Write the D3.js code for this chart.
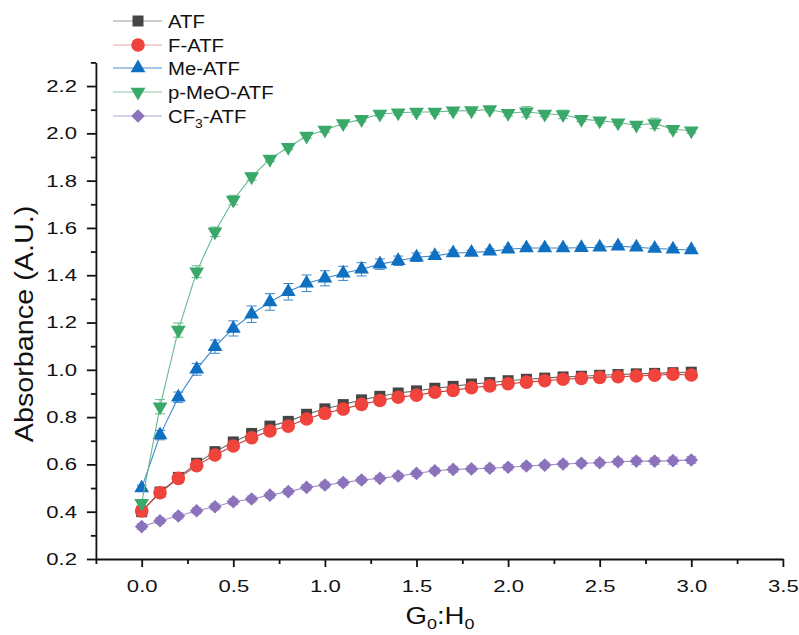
<!DOCTYPE html>
<html>
<head>
<meta charset="utf-8">
<script src="https://cdn.jsdelivr.net/npm/d3@7"></script>
<style>
  body { margin: 0; background: #fff; }
  svg text { font-family: "Liberation Sans", Arial, sans-serif; fill: #111; }
</style>
</head>
<body>
<svg id="chart" width="799" height="635"></svg>
<script>
// Data (G0:H0 ratio vs absorbance)
const ratios = [0.0, 0.1, 0.2, 0.3, 0.4, 0.5, 0.6, 0.7, 0.8, 0.9, 1.0,
  1.1, 1.2, 1.3, 1.4, 1.5, 1.6, 1.7, 1.8, 1.9, 2.0,
  2.1, 2.2, 2.3, 2.4, 2.5, 2.6, 2.7, 2.8, 2.9, 3.0];

const atf = [0.400, 0.483, 0.545, 0.605, 0.654, 0.695, 0.731, 0.762, 0.782, 0.812, 0.835,
  0.853, 0.873, 0.888, 0.902, 0.911, 0.922, 0.930, 0.940, 0.946, 0.954,
  0.960, 0.965, 0.970, 0.973, 0.977, 0.980, 0.983, 0.985, 0.988, 0.990];
const fAtf = [0.403, 0.480, 0.541, 0.595, 0.640, 0.678, 0.713, 0.741, 0.762, 0.792, 0.816,
  0.834, 0.854, 0.870, 0.884, 0.893, 0.905, 0.913, 0.924, 0.932, 0.941,
  0.948, 0.954, 0.960, 0.964, 0.968, 0.971, 0.974, 0.977, 0.981, 0.978];
const meAtf = [0.500, 0.724, 0.884, 1.002, 1.098, 1.175, 1.235, 1.287, 1.330, 1.366, 1.387,
  1.408, 1.425, 1.447, 1.461, 1.476, 1.482, 1.494, 1.496, 1.501, 1.510,
  1.515, 1.515, 1.515, 1.516, 1.518, 1.523, 1.518, 1.513, 1.510, 1.507];
const pMeoAtf = [0.436, 0.844, 1.168, 1.415, 1.584, 1.718, 1.817, 1.891, 1.941, 1.989, 2.014,
  2.042, 2.059, 2.082, 2.087, 2.090, 2.090, 2.095, 2.096, 2.101, 2.085,
  2.091, 2.082, 2.080, 2.060, 2.053, 2.045, 2.035, 2.042, 2.017, 2.011];
const cf3Atf = [0.337, 0.362, 0.382, 0.404, 0.421, 0.442, 0.454, 0.470, 0.485, 0.503, 0.513,
  0.523, 0.534, 0.541, 0.551, 0.562, 0.573, 0.579, 0.581, 0.584, 0.588,
  0.593, 0.597, 0.602, 0.605, 0.607, 0.611, 0.614, 0.614, 0.616, 0.619];

// Error bar half-heights
const atfErr = [0.008, 0.008, 0.008, 0.008, 0.008, 0.008, 0.008, 0.008, 0.008, 0.008, 0.008,
  0.008, 0.008, 0.008, 0.008, 0.008, 0.008, 0.008, 0.008, 0.008, 0.008,
  0.008, 0.008, 0.008, 0.008, 0.008, 0.008, 0.008, 0.008, 0.008, 0.008];
const fAtfErr = [0.008, 0.008, 0.008, 0.008, 0.008, 0.008, 0.008, 0.008, 0.008, 0.008, 0.008,
  0.008, 0.008, 0.008, 0.008, 0.008, 0.008, 0.008, 0.008, 0.008, 0.008,
  0.008, 0.008, 0.008, 0.008, 0.008, 0.008, 0.008, 0.008, 0.008, 0.008];
const meAtfErr = [0.012, 0.020, 0.022, 0.025, 0.028, 0.032, 0.035, 0.035, 0.035, 0.035, 0.032,
  0.030, 0.028, 0.022, 0.020, 0.018, 0.015, 0.012, 0.010, 0.010, 0.010,
  0.008, 0.008, 0.008, 0.008, 0.008, 0.008, 0.008, 0.008, 0.008, 0.008];
const pMeoAtfErr = [0.010, 0.030, 0.030, 0.025, 0.020, 0.020, 0.015, 0.010, 0.010, 0.010, 0.010,
  0.010, 0.010, 0.010, 0.010, 0.010, 0.010, 0.010, 0.010, 0.010, 0.012,
  0.022, 0.012, 0.018, 0.010, 0.010, 0.010, 0.010, 0.022, 0.012, 0.010];
const cf3AtfErr = [0.012, 0.012, 0.012, 0.012, 0.012, 0.012, 0.012, 0.012, 0.012, 0.012, 0.012,
  0.012, 0.012, 0.012, 0.012, 0.012, 0.012, 0.012, 0.012, 0.012, 0.012,
  0.012, 0.012, 0.012, 0.012, 0.013, 0.013, 0.014, 0.014, 0.015, 0.015];

const xTicks = [0.0, 0.5, 1.0, 1.5, 2.0, 2.5, 3.0, 3.5];
const xMinorTicks = [-0.25, 0.25, 0.75, 1.25, 1.75, 2.25, 2.75, 3.25];
const yTicks = [0.2, 0.4, 0.6, 0.8, 1.0, 1.2, 1.4, 1.6, 1.8, 2.0, 2.2];
const yMinorTicks = [0.3, 0.5, 0.7, 0.9, 1.1, 1.3, 1.5, 1.7, 1.9, 2.1, 2.3];

const seriesNames = ['ATF', 'F-ATF', 'Me-ATF', 'p-MeO-ATF', 'CF3-ATF'];

const series = [
  { name: seriesNames[0], values: atf, err: atfErr, shape: 'square', fill: '#454545', line: '#6a6a6a', legendLine: '#9a9a9a' },
  { name: seriesNames[1], values: fAtf, err: fAtfErr, shape: 'circle', fill: '#f0433b', line: '#c2393a', legendLine: '#e6a3a3' },
  { name: seriesNames[2], values: meAtf, err: meAtfErr, shape: 'up', fill: '#0f6fc1', line: '#3a86c9', legendLine: '#4b90cf' },
  { name: seriesNames[3], values: pMeoAtf, err: pMeoAtfErr, shape: 'down', fill: '#3aa868', line: '#66b98e', legendLine: '#8ccaa8' },
  { name: seriesNames[4], values: cf3Atf, err: cf3AtfErr, shape: 'diamond', fill: '#8b73bb', line: '#a58fcb', legendLine: '#b4a2d5' }
];

const svg = d3.select('#chart');

const x = d3.scaleLinear().domain([-0.25, 3.5]).range([95.9, 782.9]);
const y = d3.scaleLinear().domain([0.2, 2.3]).range([559, 62.4]);

// Marker shapes
function markerPath(shape) {
  if (shape === 'square') return d3.symbol(d3.symbolSquare, 121)();
  if (shape === 'circle') return d3.symbol(d3.symbolCircle, 145)();
  if (shape === 'up' || shape === 'down') return d3.symbol(d3.symbolTriangle, 95)();
  return d3.symbol(d3.symbolSquare, 92)();
}
function markerRotate(shape) {
  if (shape === 'down') return ' rotate(180)';
  if (shape === 'diamond') return ' rotate(45)';
  return '';
}

// Plot each series: line, error bars, markers
const plot = svg.append('g');
const line = d3.line()
  .x((d, i) => x(ratios[i]))
  .y(d => y(d));

series.forEach(s => {
  const g = plot.append('g');

  g.append('path')
    .datum(s.values)
    .attr('fill', 'none')
    .attr('stroke', s.line)
    .attr('stroke-width', 1.1)
    .attr('d', line);

  const bars = g.selectAll('.err')
    .data(s.values)
    .join('g')
    .attr('stroke', s.line)
    .attr('stroke-width', 1);
  bars.append('line')
    .attr('x1', (d, i) => x(ratios[i]))
    .attr('x2', (d, i) => x(ratios[i]))
    .attr('y1', (d, i) => y(d - s.err[i]))
    .attr('y2', (d, i) => y(d + s.err[i]));
  [1, -1].forEach(sign => {
    bars.append('line')
      .attr('x1', (d, i) => x(ratios[i]) - 5)
      .attr('x2', (d, i) => x(ratios[i]) + 5)
      .attr('y1', (d, i) => y(d + sign * s.err[i]))
      .attr('y2', (d, i) => y(d + sign * s.err[i]));
  });

  g.selectAll('.mark')
    .data(s.values)
    .join('path')
    .attr('d', markerPath(s.shape))
    .attr('fill', s.fill)
    .attr('transform', (d, i) => `translate(${x(ratios[i])},${y(d)})${markerRotate(s.shape)}`);
});

// Axes
const xAxis = svg.append('g')
  .attr('transform', `translate(0,${y(0.2)})`)
  .call(d3.axisBottom(x).tickValues(xTicks).tickSize(8).tickSizeOuter(0).tickFormat(d3.format('.1f')));
svg.append('g')
  .attr('transform', `translate(0,${y(0.2)})`)
  .call(d3.axisBottom(x).tickValues(xMinorTicks).tickSize(5).tickSizeOuter(0).tickFormat(''))
  .select('.domain').remove();

const yAxis = svg.append('g')
  .attr('transform', `translate(${x(-0.25)},0)`)
  .call(d3.axisLeft(y).tickValues(yTicks).tickSize(9).tickSizeOuter(0).tickFormat(d3.format('.1f')));
svg.append('g')
  .attr('transform', `translate(${x(-0.25)},0)`)
  .call(d3.axisLeft(y).tickValues(yMinorTicks).tickSize(5).tickSizeOuter(0).tickFormat(''))
  .select('.domain').remove();

svg.selectAll('.domain, .tick line')
  .attr('stroke', '#111')
  .attr('stroke-width', 1.8);

// The labels in the reference are a little wider than Arial, so stretch them
const labelStretch = 1.3;
xAxis.selectAll('text')
  .attr('font-size', 17)
  .attr('y', 21)
  .attr('transform', `scale(${labelStretch},1)`)
  .attr('x', 0);
yAxis.selectAll('text')
  .attr('font-size', 17)
  .attr('x', -19 / labelStretch)
  .attr('transform', `scale(${labelStretch},1)`);
svg.selectAll('.tick text').attr('fill', '#111').attr('font-family', '"Liberation Sans", Arial, sans-serif');

// Axis titles
const yTitle = svg.append('text')
  .attr('transform', 'translate(33,324) rotate(-90) scale(1.15,1)')
  .attr('text-anchor', 'middle')
  .attr('font-size', 25)
  .text('Absorbance (A.U.)');

const xTitle = svg.append('text')
  .attr('transform', 'translate(440,624) scale(1.2,1)')
  .attr('text-anchor', 'middle')
  .attr('font-size', 23);
xTitle.append('tspan').text('G');
xTitle.append('tspan').attr('font-size', 15).attr('dy', 5).text('0');
xTitle.append('tspan').attr('dy', -5).text(':H');
xTitle.append('tspan').attr('font-size', 15).attr('dy', 5).text('0');

// Legend
const legend = svg.append('g');
const legendRows = [21, 45, 68, 92, 116];
series.forEach((s, i) => {
  const row = legend.append('g').attr('transform', `translate(0,${legendRows[i]})`);
  row.append('line')
    .attr('x1', 113).attr('x2', 162)
    .attr('stroke', s.legendLine)
    .attr('stroke-width', 1.2);
  row.append('path')
    .attr('d', markerPath(s.shape))
    .attr('fill', s.fill)
    .attr('transform', `translate(138,0)${markerRotate(s.shape)}`);

  const label = row.append('text')
    .attr('transform', 'translate(168,7) scale(1.07,1)')
    .attr('font-size', 19);
  if (s.name === 'CF3-ATF') {
    label.append('tspan').text('CF');
    label.append('tspan').attr('font-size', 13).attr('dy', 5).text('3');
    label.append('tspan').attr('dy', -5).text('-ATF');
  } else {
    label.text(s.name);
  }
});
</script>
</body>
</html>
